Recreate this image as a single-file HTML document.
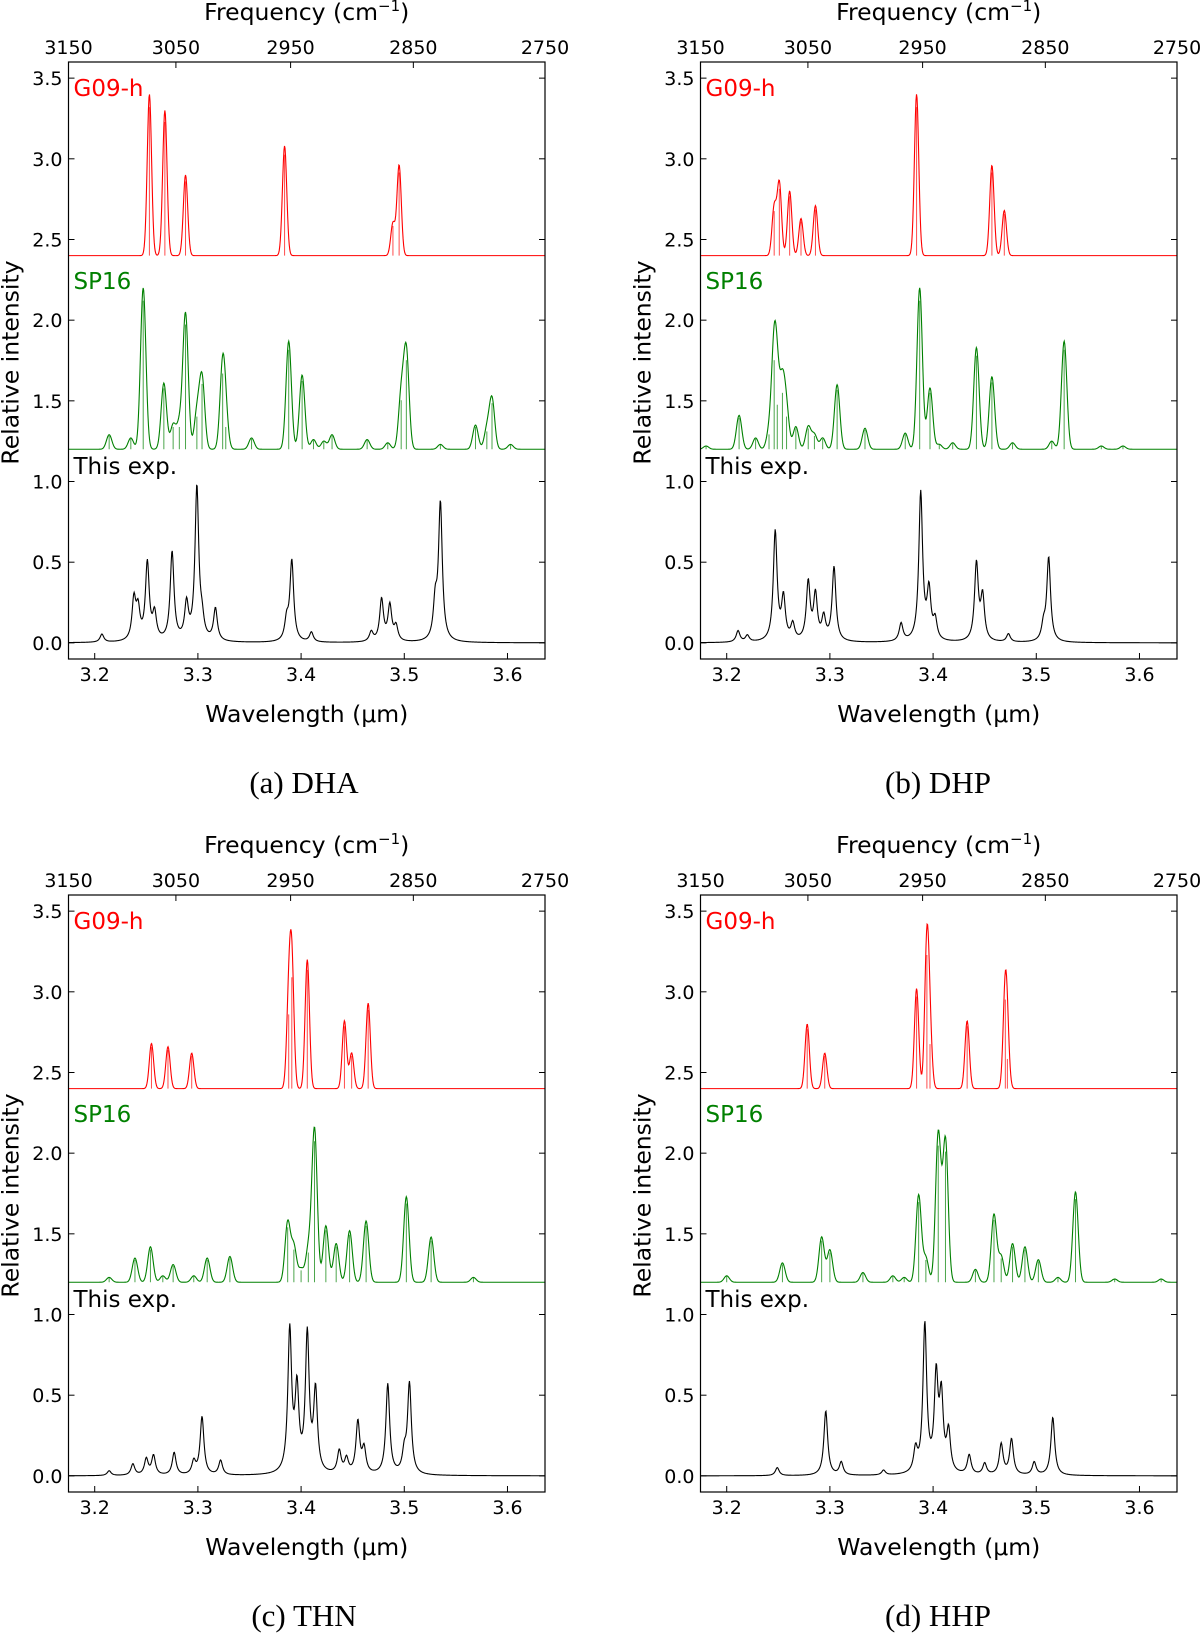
<!DOCTYPE html>
<html><head><meta charset="utf-8">
<style>
html,body{margin:0;padding:0;background:#fff;}
svg{display:block;font-family:"DejaVu Sans","Liberation Sans",sans-serif;}
.cap{font-family:"Liberation Serif",serif;font-size:31px;}
</style></head>
<body>
<svg id="fig" width="1200" height="1634" viewBox="0 0 1200 1634" xmlns="http://www.w3.org/2000/svg"></svg>
<script>
// ---- data: [position µm, peak height above baseline] ----
const dhaG09 = [[3.253,1.0],[3.268,0.9],[3.288,0.5],[3.384,0.68],[3.489,0.2],[3.495,0.56]];
const dhaSP16 = [[3.214,0.09],[3.235,0.07],[3.247,1.0],[3.267,0.41],[3.276,0.15],[3.282,0.15],[3.288,0.84],[3.299,0.22],[3.304,0.44],[3.324,0.51],[3.327,0.15],[3.352,0.07],[3.388,0.67],[3.401,0.46],[3.412,0.06],[3.422,0.05],[3.43,0.09],[3.464,0.06],[3.484,0.04],[3.497,0.33],[3.502,0.6],[3.535,0.03],[3.569,0.15],[3.585,0.31],[3.58,0.12],[3.603,0.03]];
const dhaExp = [[3.207,0.05],[3.238,0.25],[3.242,0.18],[3.251,0.48],[3.258,0.16],[3.275,0.55],[3.289,0.22],[3.299,0.95],[3.304,0.1],[3.317,0.2],[3.391,0.5],[3.386,0.12],[3.41,0.06],[3.468,0.06],[3.478,0.26],[3.486,0.22],[3.492,0.09],[3.535,0.85],[3.53,0.22]];

const dhpG09 = [[3.246,0.3],[3.251,0.45],[3.261,0.4],[3.272,0.23],[3.286,0.31],[3.384,1.0],[3.457,0.56],[3.469,0.28]];
const dhpSP16 = [[3.18,0.02],[3.212,0.21],[3.228,0.07],[3.241,0.1],[3.246,0.6],[3.249,0.3],[3.254,0.38],[3.258,0.22],[3.267,0.14],[3.279,0.14],[3.285,0.09],[3.293,0.07],[3.307,0.4],[3.334,0.13],[3.373,0.1],[3.387,1.0],[3.397,0.38],[3.406,0.03],[3.419,0.04],[3.442,0.63],[3.457,0.45],[3.477,0.04],[3.515,0.05],[3.527,0.67],[3.563,0.02],[3.584,0.02]];
const dhpExp = [[3.211,0.07],[3.22,0.04],[3.247,0.68],[3.255,0.26],[3.264,0.1],[3.279,0.36],[3.286,0.28],[3.294,0.14],[3.304,0.46],[3.369,0.11],[3.388,0.92],[3.396,0.3],[3.402,0.12],[3.442,0.48],[3.448,0.27],[3.473,0.05],[3.507,0.09],[3.512,0.52]];

const thnG09 = [[3.255,0.28],[3.271,0.26],[3.294,0.22],[3.388,0.5],[3.391,0.75],[3.406,0.8],[3.442,0.42],[3.449,0.22],[3.465,0.53]];
const thnSP16 = [[3.214,0.03],[3.239,0.15],[3.254,0.22],[3.266,0.04],[3.276,0.11],[3.296,0.04],[3.309,0.15],[3.331,0.16],[3.387,0.37],[3.393,0.22],[3.4,0.08],[3.407,0.2],[3.413,0.95],[3.424,0.35],[3.434,0.24],[3.447,0.32],[3.463,0.38],[3.502,0.53],[3.526,0.28],[3.567,0.03]];
const thnExp = [[3.214,0.03],[3.237,0.07],[3.25,0.1],[3.257,0.12],[3.277,0.14],[3.296,0.08],[3.304,0.36],[3.322,0.09],[3.389,0.88],[3.396,0.5],[3.406,0.85],[3.414,0.5],[3.437,0.14],[3.444,0.09],[3.455,0.32],[3.461,0.15],[3.484,0.56],[3.505,0.56],[3.5,0.12]];

const hhpG09 = [[3.278,0.4],[3.295,0.22],[3.384,0.62],[3.394,0.9],[3.397,0.3],[3.433,0.42],[3.47,0.6],[3.472,0.2]];
const hhpSP16 = [[3.2,0.04],[3.254,0.12],[3.292,0.28],[3.3,0.2],[3.332,0.06],[3.361,0.04],[3.372,0.03],[3.386,0.54],[3.393,0.15],[3.405,0.92],[3.412,0.88],[3.441,0.08],[3.459,0.42],[3.466,0.16],[3.477,0.24],[3.489,0.22],[3.502,0.14],[3.521,0.03],[3.538,0.56],[3.576,0.02],[3.621,0.02]];
const hhpExp = [[3.249,0.05],[3.296,0.4],[3.311,0.08],[3.352,0.03],[3.383,0.14],[3.392,0.92],[3.403,0.58],[3.408,0.45],[3.415,0.25],[3.435,0.12],[3.45,0.07],[3.466,0.19],[3.476,0.22],[3.498,0.08],[3.516,0.36]];

const captions = ["(a)  DHA","(b)  DHP","(c)  THN","(d)  HHP"];
const xTicks = [3.2,3.3,3.4,3.5,3.6];
const freqTicks = [3150,3050,2950,2850,2750];
const yTicks = [0.0,0.5,1.0,1.5,2.0,2.5,3.0,3.5];

const panels = [
  {id:'dha', ox:0, oy:0, g09:dhaG09, sp:dhaSP16, ex:dhaExp},
  {id:'dhp', ox:632, oy:0, g09:dhpG09, sp:dhpSP16, ex:dhpExp},
  {id:'thn', ox:0, oy:833, g09:thnG09, sp:thnSP16, ex:thnExp},
  {id:'hhp', ox:632, oy:833, g09:hhpG09, sp:hhpSP16, ex:hhpExp}
];

const NS = "http://www.w3.org/2000/svg";
const svg = document.getElementById('fig');
const XMIN = 1e4/3150, XMAX = 1e4/2750, YMIN = -0.1, YMAX = 3.6;
const BX = 68.5, BY = 62, BW = 476.5, BH = 597;

function mk(tag, attrs, parent){
  const e = document.createElementNS(NS, tag);
  for (const k in attrs) e.setAttribute(k, attrs[k]);
  (parent||svg).appendChild(e);
  return e;
}
function txt(s, attrs, parent){ const t = mk('text', attrs, parent); t.textContent = s; return t; }

function gauss(x, c, s){ const d=(x-c)/s; return Math.exp(-0.5*d*d); }
function lor(x, c, g){ const d=(x-c)/g; return 1/(1+d*d); }

panels.forEach((p, i) => {
  const g = mk('g', {});
  
  
  const x0 = BX + p.ox, y0 = BY + p.oy;
  const sx = v => x0 + (v - XMIN) / (XMAX - XMIN) * BW;
  const sy = v => y0 + (YMAX - v) / (YMAX - YMIN) * BH;

  function series(peaks, base, color, shape, w, name, sticks){
    let d = '';
    const N = 900;
    for (let k=0;k<=N;k++){
      const x = XMIN + (XMAX-XMIN)*k/N;
      let y = base;
      peaks.forEach(pk => { y += pk[1] * (shape==='g' ? gauss(x,pk[0],w) : lor(x,pk[0],w)); });
      d += (k?'L':'M') + sx(x).toFixed(2) + ' ' + sy(y).toFixed(2);
    }
    const path = mk('path', {d:d, fill:'none', stroke:color, 'stroke-width':1.1}, g);
    
    
    if (sticks){
      peaks.forEach(pk => {
        const l = mk('line', {x1:sx(pk[0]), x2:sx(pk[0]), y1:sy(base), y2:sy(base+pk[1]*0.92), stroke:color, 'stroke-width':1, opacity:0.7}, g);
        
        
      });
    }
  }
  series(p.g09, 2.4, '#ff0000', 'g', 0.0021, 'g09-spectrum', true);
  series(p.sp, 1.2, '#008000', 'g', 0.0026, 'sp16-spectrum', true);
  series(p.ex, 0.0, '#000000', 'l', 0.0022, 'experimental-spectrum', false);

  const fr = mk('rect', {x:x0, y:y0, width:BW, height:BH, fill:'none', stroke:'#000', 'stroke-width':1.2}, g);
  
  

  xTicks.forEach(v => {
    mk('line', {x1:sx(v), x2:sx(v), y1:y0+BH, y2:y0+BH-6, stroke:'#000','stroke-width':1}, g);
    const t = txt(v.toFixed(1), {x:sx(v), y:y0+BH+22, 'font-size':19, 'text-anchor':'middle'}, g);
    
    
  });
  freqTicks.forEach(f => {
    const xv = sx(1e4/f);
    mk('line', {x1:xv, x2:xv, y1:y0, y2:y0+6, stroke:'#000','stroke-width':1}, g);
    const t = txt(String(f), {x:xv, y:y0-8, 'font-size':19, 'text-anchor':'middle'}, g);
    
    
  });
  yTicks.forEach(v => {
    mk('line', {x1:x0, x2:x0+6, y1:sy(v), y2:sy(v), stroke:'#000','stroke-width':1}, g);
    mk('line', {x1:x0+BW, x2:x0+BW-6, y1:sy(v), y2:sy(v), stroke:'#000','stroke-width':1}, g);
    const t = txt(v.toFixed(1), {x:x0-6, y:sy(v)+7, 'font-size':19, 'text-anchor':'end'}, g);
    
    
  });

  let t = txt('G09-h', {x:x0+5, y:y0+34, 'font-size':23, fill:'#ff0000'}, g);
   
  t = txt('SP16', {x:x0+5, y:y0+227, 'font-size':23, fill:'#008000'}, g);
   
  t = txt('This exp.', {x:x0+5, y:y0+412, 'font-size':23, fill:'#000'}, g);
   

  t = txt('Wavelength (\u03bcm)', {x:x0+BW/2, y:y0+BH+63, 'font-size':23.5, 'text-anchor':'middle'}, g);
   
  t = mk('text', {x:x0+BW/2, y:y0-42, 'font-size':23.5, 'text-anchor':'middle'}, g);
  t.innerHTML = 'Frequency (cm<tspan dy="-9" font-size="15">\u22121</tspan><tspan dy="9">)</tspan>';
   
  const ycx = x0 - 50, ycy = y0 + BH/2 + 2;
  t = txt('Relative intensity', {x:ycx, y:ycy, 'font-size':23.5, 'text-anchor':'middle', transform:'rotate(-90 '+ycx+' '+ycy+')'}, g);
   

  t = txt(captions[i], {x:(i%2 ? 938 : 304), y:p.oy+793, 'text-anchor':'middle', class:'cap'}, g);
   
});
</script>
</body></html>
